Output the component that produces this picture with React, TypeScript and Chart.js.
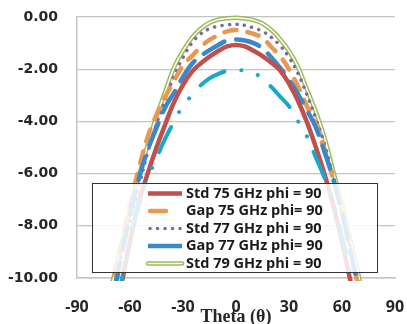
import React, { useEffect, useRef } from 'react';
import { Chart, registerables } from 'chart.js';

Chart.register(...registerables);

// ---- data ----
const theta = [-75, -70, -65, -60, -55, -50, -45, -40, -35, -30, -25, -20, -15, -10, -5, 0, 5, 10, 15, 20, 25, 30, 35, 40, 45, 50, 55, 60, 65, 70, 75];
const std75 = [-14, -12, -10.3, -8.6, -7.1, -6.0, -5.0, -4.1, -3.25, -2.6, -2.1, -1.78, -1.52, -1.3, -1.13, -1.07, -1.13, -1.3, -1.5, -1.75, -2.05, -2.55, -3.2, -4.0, -4.95, -6.0, -7.2, -8.6, -10.2, -12, -14];
const gap75 = [-12.5, -10.3, -8.7, -7.2, -5.8, -4.6, -3.75, -3.05, -2.45, -1.85, -1.5, -1.15, -0.88, -0.7, -0.55, -0.5, -0.55, -0.65, -0.8, -1.15, -1.5, -2.0, -2.65, -3.4, -4.1, -5.1, -6.2, -7.5, -9.0, -10.6, -12.5];
const std77 = [-12, -10.6, -9.2, -7.8, -6.5, -5.2, -4.1, -3.15, -2.25, -1.55, -1.0, -0.65, -0.45, -0.35, -0.3, -0.28, -0.32, -0.42, -0.55, -0.78, -1.1, -1.55, -2.15, -2.95, -3.85, -4.85, -6.1, -7.5, -8.9, -10.4, -12];
const gap77 = [-13, -11, -9.2, -7.6, -6.2, -5.1, -4.25, -3.45, -2.9, -2.3, -1.8, -1.5, -1.27, -1.07, -0.9, -0.86, -0.9, -1.0, -1.2, -1.55, -1.95, -2.4, -2.95, -3.55, -4.2, -5.15, -6.2, -7.5, -9.0, -10.7, -12.5];
const std79 = [-12, -10.2, -8.8, -7.4, -6.1, -4.9, -3.8, -2.85, -1.92, -1.3, -0.8, -0.45, -0.22, -0.1, -0.05, -0.03, -0.06, -0.12, -0.25, -0.5, -0.85, -1.3, -1.9, -2.75, -3.6, -4.6, -5.9, -7.2, -8.6, -10.1, -12];
const gap79 = [-14, -12, -10.2, -8.5, -7.2, -6.2, -5.4, -4.65, -4.0, -3.4, -3.0, -2.62, -2.35, -2.18, -2.06, -2.03, -2.06, -2.15, -2.35, -2.68, -3.05, -3.42, -3.98, -4.55, -5.35, -6.15, -7.1, -8.4, -9.9, -12, -14];

const seriesLabels = ['Std 75 GHz phi = 90', 'Gap 75 GHz phi= 90', 'Std 77 GHz phi = 90', 'Gap 77 GHz phi= 90', 'Std 79 GHz phi = 90', 'Gap 79 GHz phi= 90'];
const legendCount = 5;
const xMin = -90, xMax = 90, xStep = 30;
const yMin = -10, yMax = 0, yStep = 2;
const xTitle = 'Theta (θ)';

const toPts = (arr: number[]) => theta.map((t, i) => ({ x: t, y: arr[i] }));

const COL = {
  brown: '#C0504D',
  orange: '#E8984F',
  purple: '#7E67A6',
  blue: '#3A88C8',
  green: '#9BBB59',
  cyan: '#1AA8CA',
};

const clipOpt = { left: 6, right: 6, top: 8, bottom: 3 };

type Sample = { color: string; width: number; dash: number[]; cap: CanvasLineCap; x1?: number; x2?: number; inner?: boolean };
const legendSamples: Sample[] = [
  { color: COL.brown, width: 4.5, dash: [], cap: 'butt' },
  { color: COL.orange, width: 4.5, dash: [], cap: 'round', x1: 58, x2: 74 },
  { color: COL.purple, width: 3.5, dash: [0.1, 7.4], cap: 'round', x1: 58, x2: 90 },
  { color: COL.blue, width: 4.5, dash: [], cap: 'butt' },
  { color: COL.green, width: 4.5, dash: [], cap: 'round', inner: true },
];

const boxLegend = {
  id: 'boxLegend',
  afterDatasetsDraw(chart: any) {
    const { ctx, chartArea: ca } = chart;
    const x0 = ca.left + 15, y0 = ca.top + 166, w = 285, h = 89;
    ctx.save();
    ctx.fillStyle = 'rgba(255,255,255,0.84)';
    ctx.fillRect(x0, y0, w, h);
    ctx.strokeStyle = '#333333';
    ctx.lineWidth = 1;
    ctx.strokeRect(x0 + 0.5, y0 + 0.5, w, h);
    for (let i = 0; i < legendCount; i++) {
      const s = legendSamples[i];
      const cy = y0 + 10.5 + i * 17.5;
      const a = x0 + (s.x1 ?? 56), b = x0 + (s.x2 ?? 90);
      ctx.beginPath();
      ctx.setLineDash(s.dash);
      ctx.lineCap = s.cap;
      ctx.strokeStyle = s.color;
      ctx.lineWidth = s.width;
      ctx.moveTo(a, cy);
      ctx.lineTo(b, cy);
      ctx.stroke();
      if (s.inner) {
        ctx.beginPath();
        ctx.strokeStyle = '#ffffff';
        ctx.lineWidth = 1.5;
        ctx.moveTo(a, cy);
        ctx.lineTo(b, cy);
        ctx.stroke();
      }
      ctx.setLineDash([]);
      ctx.fillStyle = '#1a1a1a';
      ctx.font = 'bold 14.5px "Open Sans"';
      ctx.textBaseline = 'middle';
      ctx.textAlign = 'left';
      ctx.fillText(seriesLabels[i], x0 + 94, cy);
    }
    ctx.restore();
  },
};

export default function App() {
  const ref = useRef<HTMLCanvasElement>(null);
  useEffect(() => {
    const chart = new Chart(ref.current!, {
      type: 'line',
      data: {
        datasets: [
          { label: seriesLabels[4], data: toPts(std79), borderColor: COL.green, borderWidth: 4.5, order: 10, clip: clipOpt } as any,
          { label: '', data: toPts(std79), borderColor: '#ffffff', borderWidth: 1.5, order: 9, clip: clipOpt } as any,
          { label: seriesLabels[2], data: toPts(std77), borderColor: COL.purple, borderWidth: 3.5, borderDash: [0.1, 7.4], borderCapStyle: 'round', order: 8, clip: clipOpt } as any,
          { label: seriesLabels[1], data: toPts(gap75), borderColor: COL.orange, borderWidth: 4.5, borderDash: [12, 11], borderCapStyle: 'round', order: 7, clip: clipOpt } as any,
          { label: seriesLabels[3], data: toPts(gap77), borderColor: COL.blue, borderWidth: 4.5, borderDash: [24, 12], borderCapStyle: 'round', order: 6, clip: clipOpt } as any,
          { label: seriesLabels[0], data: toPts(std75), borderColor: COL.brown, borderWidth: 4.5, order: 5, clip: clipOpt } as any,
          { label: seriesLabels[5], data: toPts(gap79), borderColor: COL.cyan, borderWidth: 4, borderDash: [28, 17, 0.1, 17, 0.1, 17], borderCapStyle: 'round', order: 4, clip: clipOpt } as any,
        ],
      },
      options: {
        animation: false,
        responsive: false,
        devicePixelRatio: 1,
        elements: { point: { radius: 0, hoverRadius: 0 }, line: { tension: 0.4, fill: false } },
        layout: { padding: { left: 0, right: 12, top: 17, bottom: 0 } },
        plugins: { legend: { display: false }, tooltip: { enabled: false } },
        scales: {
          x: {
            type: 'linear',
            min: xMin,
            max: xMax,
            ticks: { stepSize: xStep, autoSkip: false, maxRotation: 0, padding: 20, color: '#262626', font: { family: '"Open Sans"', size: 16, weight: 'bold' } },
            grid: { display: false, drawTicks: false },
            border: { display: true, color: '#c4c4c4', width: 1.5 },
            title: { display: true, text: xTitle, color: '#262626', padding: { top: 0, bottom: -2 }, font: { family: '"Liberation Serif"', size: 18, weight: 'bold', lineHeight: 1 } },
            afterFit: (s: any) => { s.height = 46; s.paddingLeft = 0; s.paddingRight = 0; },
          },
          y: {
            min: yMin,
            max: yMax,
            ticks: { stepSize: yStep, padding: 19, color: '#262626', font: { family: '"DejaVu Sans"', size: 14, weight: 'bold' }, callback: (v: any) => Number(v).toFixed(2) },
            grid: { color: '#c4c4c4', lineWidth: 1.2, drawTicks: false },
            border: { display: true, color: '#c4c4c4', width: 1.5 },
            afterFit: (s: any) => { s.width = 77; s.paddingTop = 0; s.paddingBottom = 0; },
          },
        },
      } as any,
      plugins: [boxLegend],
    });
    return () => chart.destroy();
  }, []);
  return (
    <div style={{ position: 'fixed', left: 0, top: 0, width: 407, height: 324, background: '#ffffff' }}>
      <canvas ref={ref} width={407} height={324} style={{ display: 'block' }} />
    </div>
  );
}
